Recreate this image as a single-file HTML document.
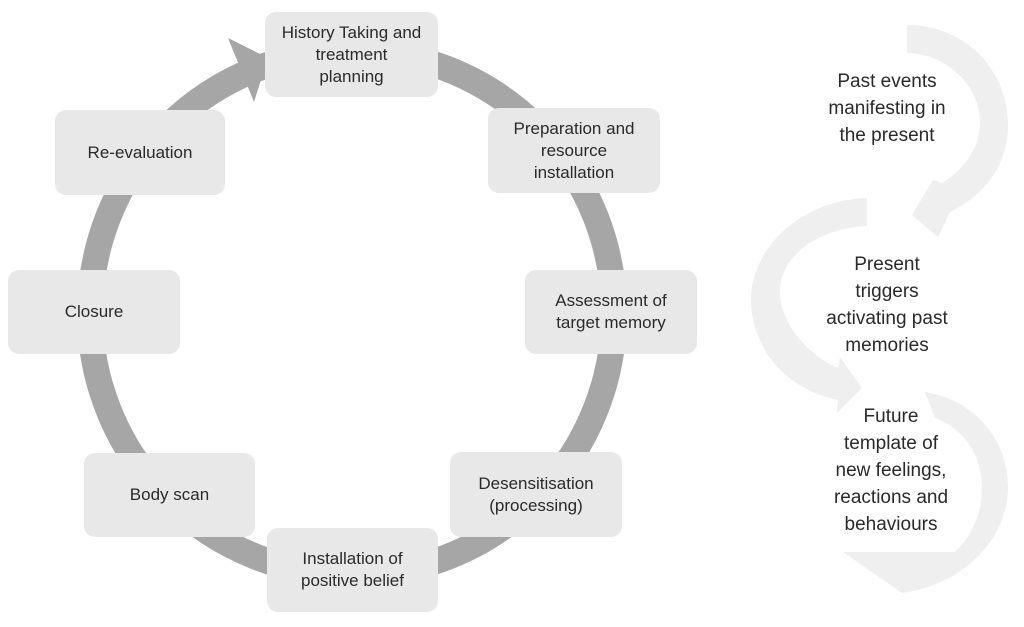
<!DOCTYPE html>
<html><head><meta charset="utf-8"><style>
body{margin:0;background:#fff;}
.w{position:relative;width:1024px;height:627px;overflow:hidden;font-family:"Liberation Sans",sans-serif;}
.b{position:absolute;background:#e8e8e8;border-radius:11px;display:flex;align-items:center;justify-content:center;text-align:center;font-size:17px;line-height:22px;color:#2a2a2a;}
.t{position:absolute;text-align:center;font-size:19px;line-height:27px;color:#2a2a2a;width:220px;}
</style></head><body><div class="w">
<svg width="1024" height="627" style="position:absolute;left:0;top:0">
<circle cx="352" cy="313" r="262" fill="none" stroke="#a6a6a6" stroke-width="26"/>
<polygon points="228,38 268,58 254,102" fill="#a6a6a6"/>
<g fill="#efefef">
<path d="M907,25 C965,25 1008,70 1008,125 C1008,165 985,195 950,212 L938,237 L912,215 L933,180 L942,183 C966,168 980,147 980,122 C980,85 945,53 907,53 Z"/>
<path d="M867,198 C800,200 748,250 751,305 C755,355 790,390 838,400 L837,413 L862,388 L840,357 L838,368 C808,355 782,325 780,295 C778,255 820,228 867,226 Z"/>
<path d="M925,392 C975,400 1008,440 1008,487 C1008,540 962,585 902,593 L843,552 L955,552 C975,532 982,510 982,487 C982,455 963,428 935,418 Z"/>
</g>
</svg>
<div class="b" style="left:265px;top:12px;width:173px;height:85px">History Taking and<br>treatment<br>planning</div>
<div class="b" style="left:488px;top:108px;width:172px;height:85px">Preparation and<br>resource<br>installation</div>
<div class="b" style="left:525px;top:270px;width:172px;height:84px">Assessment of<br>target memory</div>
<div class="b" style="left:450px;top:452px;width:172px;height:85px">Desensitisation<br>(processing)</div>
<div class="b" style="left:267px;top:528px;width:171px;height:84px">Installation of<br>positive belief</div>
<div class="b" style="left:84px;top:453px;width:171px;height:84px">Body scan</div>
<div class="b" style="left:8px;top:270px;width:172px;height:84px">Closure</div>
<div class="b" style="left:55px;top:110px;width:170px;height:85px">Re-evaluation</div>
<div class="t" style="left:777px;top:68px">Past events<br>manifesting in<br>the present</div>
<div class="t" style="left:777px;top:251px">Present<br>triggers<br>activating past<br>memories</div>
<div class="t" style="left:781px;top:403px">Future<br>template of<br>new feelings,<br>reactions and<br>behaviours</div>
</div></body></html>
